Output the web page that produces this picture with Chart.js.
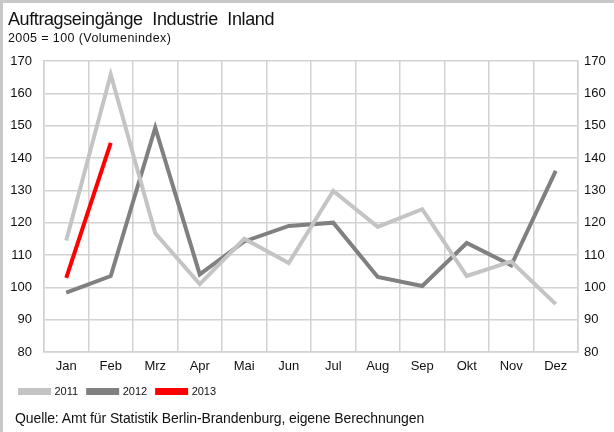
<!DOCTYPE html>
<html>
<head>
<meta charset="utf-8">
<script src="https://cdn.jsdelivr.net/npm/chart.js@4/dist/chart.umd.min.js"></script>
<style>
  html, body { margin: 0; padding: 0; background: #fff; }
  #wrap { position: relative; width: 614px; height: 432px; overflow: hidden;
          font-family: "Liberation Sans", Arial, sans-serif; color: #111; }
  #frame { position: absolute; left: 0; top: 0; width: 614px; height: 432px;
           border-top: 3px solid #c8c8c8; border-left: 3px solid #c8c8c8; box-sizing: border-box; pointer-events: none; }
  #title { position: absolute; left: 8px; top: 9px; font-size: 18px; letter-spacing: -0.4px; word-spacing: 5px; white-space: nowrap; }
  #subtitle { position: absolute; left: 8px; top: 31px; font-size: 12.5px; letter-spacing: 0.4px; white-space: nowrap; }
  #source { position: absolute; left: 15px; top: 410px; font-size: 14px; letter-spacing: -0.1px; white-space: nowrap; }
  canvas { position: absolute; left: 0; top: 0; }
</style>
</head>
<body>
<div id="wrap">
  <canvas id="chart" width="614" height="432"></canvas>
  <div id="title">Auftragseingänge Industrie Inland</div>
  <div id="subtitle">2005 = 100 (Volumenindex)</div>
  <div id="source">Quelle: Amt für Statistik Berlin-Brandenburg, eigene Berechnungen</div>
  <div id="frame"></div>
</div>
<script>
// Monate
const months = ['Jan', 'Feb', 'Mrz', 'Apr', 'Mai', 'Jun', 'Jul', 'Aug', 'Sep', 'Okt', 'Nov', 'Dez'];

// Indexwerte je Jahr
const values2011 = [114.5, 165.8, 116.7, 101, 115, 107.5, 129.8, 118.7, 124.2, 103.5, 108, 94.8];
const values2012 = [98.4, 103.5, 149.4, 104, 114.2, 119, 120, 103.2, 100.4, 113.7, 106.8, 136];
const values2013 = [102.9, 144.7];

const gridColor = '#d2d2d2';
const textFont = { family: '"Liberation Sans", Arial, sans-serif', size: 13 };

const ctx = document.getElementById('chart');
new Chart(ctx, {
    type: 'line',
    data: {
        labels: months,
        datasets: [
            { label: '2011', data: values2011, borderColor: '#c4c4c4', backgroundColor: '#c4c4c4', yAxisID: 'y' },
            { label: '2012', data: values2012, borderColor: '#808080', backgroundColor: '#808080', yAxisID: 'y' },
            { label: '2013', data: values2013, borderColor: '#ff0000', backgroundColor: '#ff0000', yAxisID: 'y' }
        ]
    },
    options: {
        responsive: false,
        animation: false,
        layout: { padding: { left: 10, right: 0, top: 61, bottom: 25 } },
        elements: {
            line: { borderWidth: 4, tension: 0, borderCapStyle: 'butt' },
            point: { radius: 0, hoverRadius: 0 }
        },
        scales: {
            x: {
                offset: true,
                grid: { offset: true, color: gridColor, lineWidth: 1.5, drawTicks: false },
                border: { color: gridColor, width: 1.5 },
                ticks: { color: '#111', font: textFont, padding: 7, maxRotation: 0 },
                afterFit: (scale) => { scale.height = 24; }
            },
            y: {
                position: 'left',
                min: 80, max: 170,
                grid: { color: gridColor, lineWidth: 1.5, drawTicks: false },
                border: { color: gridColor, width: 1.5 },
                ticks: { stepSize: 10, color: '#111', font: textFont, padding: 12 },
                afterFit: (scale) => { scale.width = 34; }
            },
            y1: {
                position: 'right',
                min: 80, max: 170,
                grid: { drawOnChartArea: false, drawTicks: false },
                border: { color: gridColor, width: 1.5 },
                ticks: { stepSize: 10, color: '#111', font: textFont, padding: 6 },
                afterFit: (scale) => { scale.width = 36; }
            }
        },
        plugins: {
            legend: {
                position: 'bottom',
                align: 'start',
                labels: {
                    boxWidth: 29,
                    boxHeight: 3,
                    padding: 10,
                    color: '#111',
                    font: { family: '"Liberation Sans", Arial, sans-serif', size: 11 }
                }
            },
            tooltip: { enabled: false }
        }
    }
});
</script>
</body>
</html>
